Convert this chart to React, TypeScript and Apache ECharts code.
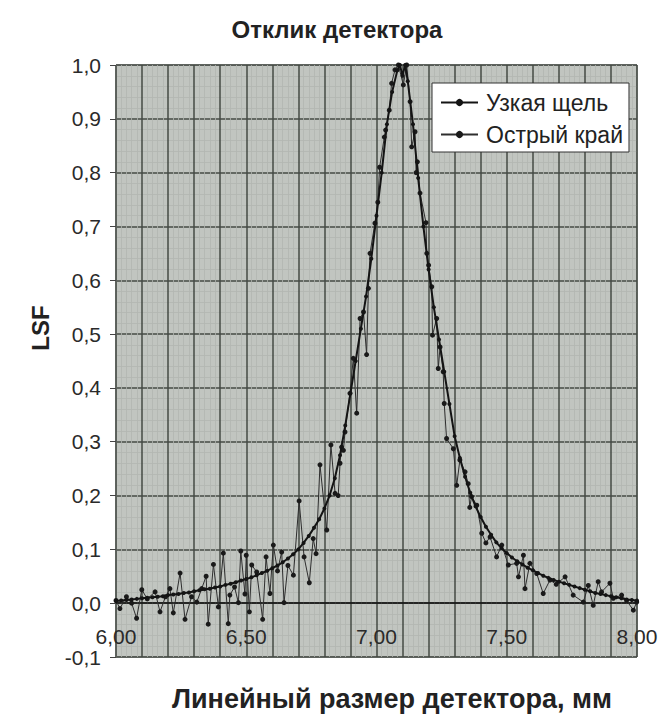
import React, { useEffect, useRef } from 'react';
import * as echarts from 'echarts';

const chartTitle = 'Отклик детектора';
const xTitle = 'Линейный размер детектора, мм';
const yTitle = 'LSF';
const seriesNames = ['Узкая щель', 'Острый край'];

const slitX = [
  6.0, 6.02, 6.04, 6.06, 6.08, 6.1, 6.12, 6.14, 6.16, 6.18, 6.2, 6.22, 6.24, 6.26, 6.28, 6.3, 6.32, 6.34, 6.36, 6.38,
  6.4, 6.42, 6.44, 6.46, 6.48, 6.5, 6.52, 6.54, 6.56, 6.58, 6.6, 6.62, 6.64, 6.66, 6.68, 6.7, 6.72, 6.74, 6.76, 6.78,
  6.8, 6.82, 6.84, 6.86, 6.88, 6.9, 6.92, 6.94, 6.96, 6.98, 7.0, 7.02, 7.04, 7.06, 7.08, 7.09, 7.1, 7.11, 7.12, 7.14,
  7.16, 7.18, 7.2, 7.22, 7.24, 7.26, 7.28, 7.3, 7.32, 7.34, 7.36, 7.38, 7.4, 7.42, 7.44, 7.46, 7.48, 7.5, 7.52, 7.54,
  7.56, 7.58, 7.6, 7.62, 7.64, 7.66, 7.68, 7.7, 7.72, 7.74, 7.76, 7.78, 7.8, 7.82, 7.84, 7.86, 7.88, 7.9, 7.92, 7.94,
  7.96, 7.98, 8.0,
];
const slitY = [
  0.004, 0.005, 0.006, 0.007, 0.008, 0.009, 0.01, 0.011, 0.012, 0.013, 0.015, 0.016, 0.017, 0.019, 0.02, 0.022, 0.024, 0.026, 0.027, 0.029,
  0.031, 0.034, 0.036, 0.039, 0.042, 0.045, 0.048, 0.052, 0.056, 0.06, 0.065, 0.07, 0.076, 0.083, 0.091, 0.1, 0.112, 0.125, 0.14, 0.156,
  0.176, 0.2, 0.232, 0.275, 0.33, 0.39, 0.45, 0.51, 0.57, 0.64, 0.72, 0.8, 0.89, 0.95, 0.99, 1.0, 0.98, 1.0, 0.97, 0.89,
  0.79, 0.7, 0.62, 0.55, 0.49, 0.43, 0.37, 0.31, 0.27, 0.235, 0.205, 0.18, 0.16, 0.142, 0.127, 0.113, 0.102, 0.093, 0.085, 0.078,
  0.072, 0.066, 0.061, 0.056, 0.051, 0.047, 0.043, 0.04, 0.037, 0.034, 0.031, 0.028, 0.025, 0.022, 0.019, 0.017, 0.015, 0.013, 0.011, 0.009,
  0.007, 0.006, 0.005,
];

const edgeX = [
  6.0, 6.015, 6.04, 6.06, 6.079, 6.099, 6.12, 6.15, 6.169, 6.19, 6.207, 6.22, 6.246, 6.265, 6.29, 6.31, 6.329, 6.346, 6.354, 6.374,
  6.393, 6.412, 6.431, 6.437, 6.455, 6.47, 6.479, 6.495, 6.5, 6.512, 6.521, 6.54, 6.563, 6.576, 6.591, 6.604, 6.62, 6.636, 6.645, 6.66,
  6.681, 6.703, 6.722, 6.742, 6.757, 6.768, 6.783, 6.809, 6.825, 6.841, 6.853, 6.86, 6.866, 6.873, 6.879, 6.898, 6.911, 6.924, 6.937, 6.95,
  6.962, 6.969, 6.975, 6.994, 7.005, 7.012, 7.03, 7.035, 7.049, 7.058, 7.071, 7.084, 7.103, 7.116, 7.129, 7.135, 7.148, 7.152, 7.157, 7.167,
  7.19, 7.193, 7.2, 7.212, 7.215, 7.231, 7.237, 7.244, 7.256, 7.26, 7.269, 7.295, 7.308, 7.32, 7.34, 7.352, 7.358, 7.365, 7.385, 7.404,
  7.42, 7.436, 7.461, 7.481, 7.506, 7.538, 7.545, 7.564, 7.57, 7.589, 7.615, 7.64, 7.666, 7.69, 7.724, 7.755, 7.794, 7.813, 7.832, 7.851,
  7.864, 7.896, 7.909, 7.941, 7.96, 7.986, 7.999,
];
const edgeY = [
  0.005, -0.01, 0.012, 0.0, -0.028, 0.025, 0.008, 0.021, -0.016, 0.012, 0.027, -0.018, 0.056, -0.03, 0.012, 0.002, 0.027, 0.05, -0.039, 0.072,
  -0.007, 0.093, -0.038, 0.015, 0.03, 0.001, 0.097, 0.017, 0.089, -0.016, 0.071, 0.058, -0.03, 0.086, 0.018, 0.108, 0.06, 0.095, 0.001, 0.07,
  0.052, 0.19, 0.086, 0.038, 0.12, 0.092, 0.257, 0.136, 0.294, 0.204, 0.2, 0.26, 0.29, 0.284, 0.318, 0.39, 0.455, 0.353, 0.529, 0.541,
  0.462, 0.585, 0.65, 0.706, 0.745, 0.81, 0.866, 0.879, 0.916, 0.966, 0.991, 1.0, 0.963, 1.0, 0.932, 0.848, 0.876, 0.8, 0.82, 0.762,
  0.707, 0.65, 0.628, 0.588, 0.498, 0.529, 0.436, 0.476, 0.43, 0.371, 0.306, 0.287, 0.219, 0.266, 0.244, 0.222, 0.178, 0.198, 0.182, 0.13,
  0.112, 0.123, 0.086, 0.108, 0.071, 0.074, 0.049, 0.089, 0.027, 0.074, 0.055, 0.018, 0.043, 0.035, 0.049, 0.015, 0.002, 0.033, -0.004, 0.04,
  0.021, 0.037, 0.009, 0.015, 0.005, -0.013, 0.002,
];

const FONT = "'Liberation Sans', Arial, sans-serif";

export default function App() {
  const ref = useRef<HTMLDivElement>(null);
  useEffect(() => {
    const chart = echarts.init(ref.current!, null, { renderer: 'svg' });
    const slitData = slitX.map((x, i) => [x, slitY[i]]);
    const edgeData = edgeX.map((x, i) => [x, edgeY[i]]);
    chart.setOption({
      animation: false,
      backgroundColor: '#ffffff',
      textStyle: { fontFamily: FONT },
      grid: {
        left: 116,
        right: 31,
        top: 65,
        bottom: 61,
        show: true,
        backgroundColor: '#c1c5c0',
        borderColor: '#5a5f5a',
        borderWidth: 1,
      },
      legend: {
        orient: 'vertical',
        left: 432,
        top: 83,
        width: 198,
        padding: [8, 6, 6, 8],
        itemGap: 9,
        itemWidth: 37,
        itemHeight: 9,
        backgroundColor: '#ffffff',
        borderColor: '#333333',
        borderWidth: 1,
        textStyle: { fontSize: 23, color: '#222222', fontFamily: FONT, padding: [0, 0, 0, 3] },
        data: seriesNames,
      },
      xAxis: {
        type: 'value',
        min: 6,
        max: 8,
        interval: 0.1,
        axisLine: { onZero: true, lineStyle: { color: '#111111', width: 1.5 } },
        axisTick: { show: false },
        axisLabel: {
          margin: -31,
          fontSize: 21,
          color: '#2a2a2a',
          fontFamily: FONT,
          hideOverlap: false,
          formatter: (v: number) => {
            const r = Math.round(v * 10);
            return r % 5 === 0 ? (r / 10).toFixed(2).replace('.', ',') : '';
          },
        },
        splitLine: { show: true, lineStyle: { color: '#454a45', width: 1.5 } },
        minorTick: { show: false, splitNumber: 5 },
        minorSplitLine: { show: true, lineStyle: { color: '#b2b6b1', width: 0.8 } },
      },
      yAxis: {
        type: 'value',
        min: -0.1,
        max: 1.0,
        interval: 0.1,
        axisLine: { show: true, onZero: false, lineStyle: { color: '#5a5f5a', width: 1 } },
        axisTick: { show: true, length: 6, inside: false, lineStyle: { color: '#444444' } },
        axisLabel: {
          margin: 15,
          fontSize: 21,
          color: '#2a2a2a',
          fontFamily: FONT,
          formatter: (v: number) => v.toFixed(1).replace('.', ','),
        },
        splitLine: { show: true, lineStyle: { color: '#454a45', width: 1.5 } },
        minorTick: { show: false, splitNumber: 5 },
        minorSplitLine: { show: true, lineStyle: { color: '#b2b6b1', width: 0.8 } },
      },
      graphic: [
        {
          type: 'text',
          x: 337,
          y: 29,
          style: { text: chartTitle, font: `bold 24px ${FONT}`, fill: '#222222', align: 'center', verticalAlign: 'middle' },
        },
        {
          type: 'text',
          x: 392,
          y: 699,
          style: { text: xTitle, font: `bold 27px ${FONT}`, fill: '#222222', align: 'center', verticalAlign: 'middle' },
        },
        {
          type: 'text',
          x: 40,
          y: 328,
          rotation: Math.PI / 2,
          style: { text: yTitle, font: `bold 24px ${FONT}`, fill: '#222222', align: 'center', verticalAlign: 'middle' },
        },
      ],
      series: [
        {
          name: seriesNames[1],
          type: 'line',
          data: edgeData,
          symbol: 'circle',
          symbolSize: 5,
          showSymbol: true,
          lineStyle: { color: '#2e2e2e', width: 1 },
          itemStyle: { color: '#1a1a1a' },
          z: 2,
        },
        {
          name: seriesNames[0],
          type: 'line',
          data: slitData,
          symbol: 'circle',
          symbolSize: 4,
          showSymbol: true,
          lineStyle: { color: '#141414', width: 2 },
          itemStyle: { color: '#141414' },
          z: 3,
        },
      ],
    });
    return () => chart.dispose();
  }, []);
  return <div ref={ref} style={{ position: 'fixed', left: 0, top: 0, width: 668, height: 718 }} />;
}
